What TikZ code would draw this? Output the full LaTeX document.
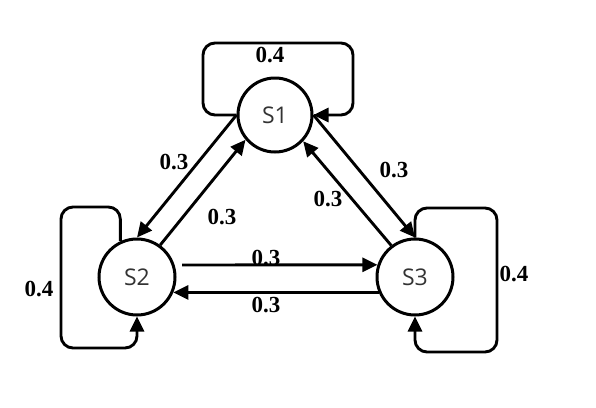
\documentclass[tikz,border=0pt]{standalone}
\usepackage{fontspec}
\setmainfont{Liberation Serif}
\newfontfamily\statefont{Open Sans}
\usetikzlibrary{arrows.meta}
\begin{document}
\begin{tikzpicture}[x=1pt,y=-1pt,
  state/.style={circle,draw,line width=3pt,minimum size=74pt,inner sep=0pt,
    font=\statefont\fontsize{23}{25}\selectfont,text=black!80},
  arr/.style={line width=2.9pt,-{Triangle[length=15pt,width=14pt]}},
  loopline/.style={arr,rounded corners=12pt},
  lbl/.style={font=\bfseries\fontsize{23}{25}\selectfont,inner sep=0pt}]
\useasboundingbox (0,0) rectangle (596,407);
\node[state] (S1) at (275,115) {S1};
\node[state,minimum size=76pt] (S2) at (137,277) {S2};
\node[state,minimum size=76pt] (S3) at (415,277) {S3};
% self loops
\coordinate (l1a) at (203,43);
\coordinate (l1b) at (353,43);
\draw[loopline] (S1.west) -- (S1.west -| l1a) -- (l1a) -- (l1b) -- (S1.east -| l1b) -- (S1.east);
\coordinate (l2a) at (61,207);
\coordinate (l2b) at (61,348);
\draw[loopline] (S2.115) -- (S2.115 |- l2a) -- (l2a) -- (l2b) -- (S2.south |- l2b) -- (S2.south);
\coordinate (l3a) at (497,208);
\coordinate (l3b) at (497,352);
\draw[loopline] (S3.north) -- (S3.north |- l3a) -- (l3a) -- (l3b) -- (S3.south |- l3b) -- (S3.south);
% diagonals
\draw[arr] (S1.west) -- (S2.north);
\draw[arr] (S2.54) -- (S1.220);
\draw[arr] (S1.east) -- (S3.north);
\draw[arr] (S3.127) -- (S1.317);
% horizontals
\coordinate (h1) at (182,265);
\draw[arr] (h1) -- (S3.162);
\draw[arr] (S3.203) -- (S2.-23);
% labels
\node[lbl] (p11) at (270,55) {0.4};
\node[lbl] (p22) at (39,289) {0.4};
\node[lbl] (p33) at (514,274) {0.4};
\node[lbl] (p12) at (174,162) {0.3};
\node[lbl] (p21) at (222,217) {0.3};
\node[lbl] (p13) at (394,170) {0.3};
\node[lbl] (p31) at (328,199) {0.3};
\node[lbl] (p23) at (266,258) {0.3};
\node[lbl] (p32) at (266,305) {0.3};
\end{tikzpicture}
\end{document}
